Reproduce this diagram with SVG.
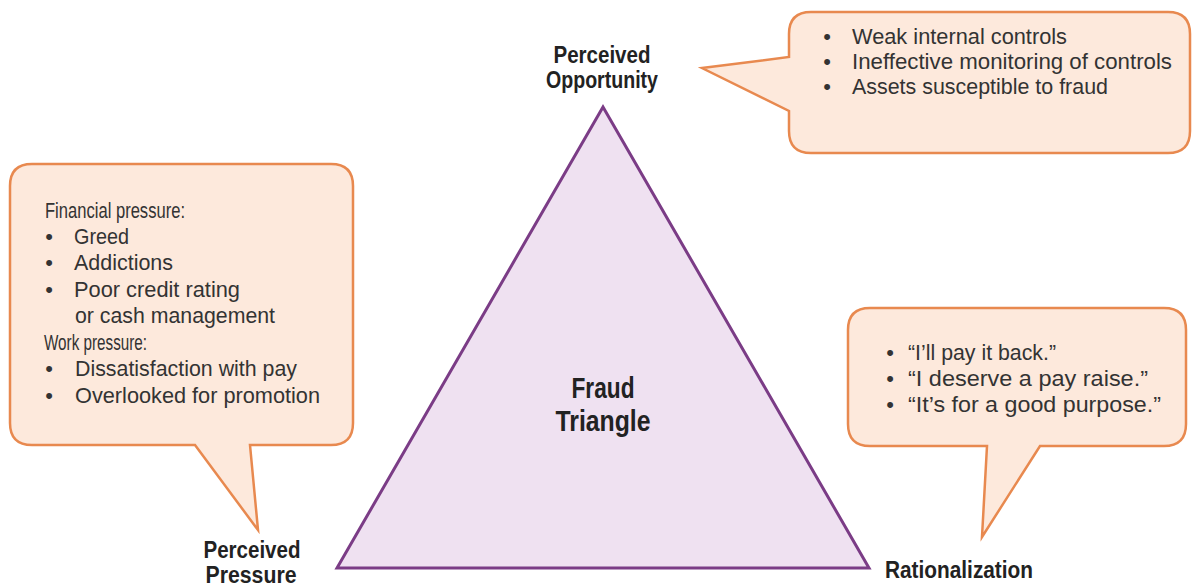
<svg xmlns="http://www.w3.org/2000/svg" width="1193" height="586" viewBox="0 0 1193 586">
<style>
.bubble{fill:#fde9dc;stroke:#e8894f;stroke-width:2.5;stroke-linejoin:miter}
.tri{fill:#efe1f1;stroke:#7b3c86;stroke-width:3;stroke-linejoin:miter}
.t{font-family:"Liberation Sans",Arial,sans-serif;font-size:22px;fill:#333333}
.lbl{font-family:"Liberation Sans",Arial,sans-serif;font-size:23px;font-weight:bold;fill:#222222}
.ctr{font-family:"Liberation Sans",Arial,sans-serif;font-size:30px;font-weight:bold;fill:#222222}
</style>
<rect width="1193" height="586" fill="#ffffff"/>
<g id="triangle">
<path class="tri" d="M603,107 L869,568 L337,568 Z"/>
<text class="ctr" x="603" y="398" text-anchor="middle" textLength="63" lengthAdjust="spacingAndGlyphs">Fraud</text>
<text class="ctr" x="603" y="431" text-anchor="middle" textLength="95" lengthAdjust="spacingAndGlyphs">Triangle</text>
</g>
<g id="opportunity">
<text class="lbl" x="602" y="63" text-anchor="middle" textLength="97" lengthAdjust="spacingAndGlyphs">Perceived</text>
<text class="lbl" x="602" y="88" text-anchor="middle" textLength="112" lengthAdjust="spacingAndGlyphs">Opportunity</text>
<path class="bubble" d="M811,12 H1168 Q1190,12 1190,34 V131 Q1190,153 1168,153 H811 Q789,153 789,131 V111 L702,68 L789,57 V34 Q789,12 811,12 Z"/>
<text class="t" x="827" y="44" text-anchor="middle">•</text>
<text class="t" x="852" y="44" textLength="215" lengthAdjust="spacingAndGlyphs">Weak internal controls</text>
<text class="t" x="827" y="69" text-anchor="middle">•</text>
<text class="t" x="852" y="69" textLength="320" lengthAdjust="spacingAndGlyphs">Ineffective monitoring of controls</text>
<text class="t" x="827" y="94" text-anchor="middle">•</text>
<text class="t" x="852" y="94" textLength="256" lengthAdjust="spacingAndGlyphs">Assets susceptible to fraud</text>
</g>
<g id="pressure">
<path class="bubble" d="M32,164 H331 Q353,164 353,186 V423 Q353,445 331,445 H250 L258,530 L195,445 H32 Q10,445 10,423 V186 Q10,164 32,164 Z"/>
<text class="t" x="45" y="218" textLength="140" lengthAdjust="spacingAndGlyphs">Financial pressure:</text>
<text class="t" x="49" y="244" text-anchor="middle">•</text>
<text class="t" x="74" y="244" textLength="55" lengthAdjust="spacingAndGlyphs">Greed</text>
<text class="t" x="49" y="270" text-anchor="middle">•</text>
<text class="t" x="74" y="270" textLength="99" lengthAdjust="spacingAndGlyphs">Addictions</text>
<text class="t" x="49" y="297" text-anchor="middle">•</text>
<text class="t" x="74" y="297" textLength="166" lengthAdjust="spacingAndGlyphs">Poor credit rating</text>
<text class="t" x="75" y="323" textLength="200" lengthAdjust="spacingAndGlyphs">or cash management</text>
<text class="t" x="44" y="350" textLength="103" lengthAdjust="spacingAndGlyphs">Work pressure:</text>
<text class="t" x="49" y="376" text-anchor="middle">•</text>
<text class="t" x="75" y="376" textLength="222" lengthAdjust="spacingAndGlyphs">Dissatisfaction with pay</text>
<text class="t" x="49" y="403" text-anchor="middle">•</text>
<text class="t" x="75" y="403" textLength="245" lengthAdjust="spacingAndGlyphs">Overlooked for promotion</text>
<text class="lbl" x="252" y="558" text-anchor="middle" textLength="97" lengthAdjust="spacingAndGlyphs">Perceived</text>
<text class="lbl" x="251" y="583" text-anchor="middle" textLength="91" lengthAdjust="spacingAndGlyphs">Pressure</text>
</g>
<g id="rationalization">
<path class="bubble" d="M870,308 H1164 Q1186,308 1186,330 V424 Q1186,446 1164,446 H1040 L982,537 L987,446 H870 Q848,446 848,424 V330 Q848,308 870,308 Z"/>
<text class="t" x="890" y="360" text-anchor="middle">•</text>
<text class="t" x="908" y="360" textLength="148" lengthAdjust="spacingAndGlyphs">“I’ll pay it back.”</text>
<text class="t" x="890" y="386" text-anchor="middle">•</text>
<text class="t" x="908" y="386" textLength="240" lengthAdjust="spacingAndGlyphs">“I deserve a pay raise.”</text>
<text class="t" x="890" y="412" text-anchor="middle">•</text>
<text class="t" x="908" y="412" textLength="253" lengthAdjust="spacingAndGlyphs">“It’s for a good purpose.”</text>
<text class="lbl" x="959" y="578" text-anchor="middle" textLength="148" lengthAdjust="spacingAndGlyphs">Rationalization</text>
</g>
<g id="connectors"></g>
</svg>
